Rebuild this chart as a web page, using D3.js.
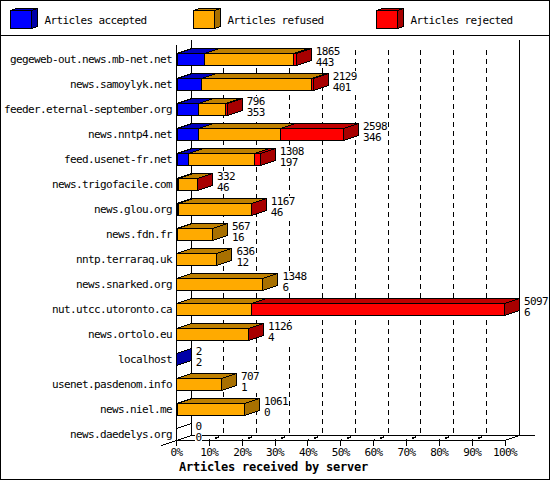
<!DOCTYPE html>
<html>
<head>
<meta charset="utf-8">
<script src="https://cdn.jsdelivr.net/npm/d3@7"></script>
<style>
html, body { margin: 0; padding: 0; background: #fff; }
svg { display: block; }
svg text { font-family: "DejaVu Sans Mono", monospace; font-size: 11px; letter-spacing: -0.62px; fill: #000; }
svg .title { font-size: 12px; font-weight: bold; letter-spacing: -0.22px; }
svg path, svg line, svg rect, svg polygon { shape-rendering: crispEdges; }
</style>
</head>
<body>
<div id="chart"></div>
<script>
let servers = ["gegeweb-out.news.mb-net.net", "news.samoylyk.net", "feeder.eternal-september.org", "news.nntp4.net",
    "feed.usenet-fr.net", "news.trigofacile.com", "news.glou.org", "news.fdn.fr", "nntp.terraraq.uk", "news.snarked.org",
    "nut.utcc.utoronto.ca", "news.ortolo.eu", "localhost", "usenet.pasdenom.info", "news.niel.me", "news.daedelys.org"];
let accepted = [443, 401, 353, 346, 197, 46, 46, 16, 12, 6, 6, 4, 2, 1, 0, 0];
let refused = [1385, 1706, 410, 1281, 1026, 285, 1120, 551, 624, 1342, 1170, 1121, 0, 706, 1061, 0];
let rejected = [37, 22, 33, 971, 85, 1, 1, 0, 0, 0, 3921, 1, 0, 0, 0, 0];
let percentTicks = [0, 10, 20, 30, 40, 50, 60, 70, 80, 90, 100];
let seriesNames = ["Articles accepted", "Articles refused", "Articles rejected"];
let seriesColors = ["#0000ff", "#ffaa00", "#ff0000"];
let topColors = ["#0000bf", "#bf8000", "#bf0000"];
let sideColors = ["#0000a8", "#a87000", "#a80000"];

let fullWidth = 550, fullHeight = 480;
let depthX = 15, depthY = 5, barHeight = 12;

let svg = d3.select("#chart").append("svg")
    .attr("width", fullWidth)
    .attr("height", fullHeight);

// frame and legend separator
svg.append("rect").attr("x", 0.5).attr("y", 0.5).attr("width", fullWidth - 1).attr("height", fullHeight - 1)
    .attr("fill", "#fff").attr("stroke", "#000");
svg.append("line").attr("x1", 0).attr("x2", fullWidth).attr("y1", 35.5).attr("y2", 35.5).attr("stroke", "#000");

let x = d3.scaleLinear().domain([0, 100]).range([176.5, 505]);
let y = d3.scaleBand().domain(servers).range([40, 440]);
let snap = v => Math.round(x(v)) - 0.5;

let totals = servers.map((s, i) => accepted[i] + refused[i] + rejected[i]);
let maxTotal = d3.max(totals);
let pct = v => v * 100 / maxTotal;

let walls = svg.append("g").attr("fill", "none").attr("stroke", "#000");
let floorY = y.range()[1] + 0.5;

// back plane grid
walls.selectAll(".grid")
    .data(percentTicks.slice(1, -1))
    .enter().append("line")
    .attr("x1", d => snap(d) + depthX).attr("x2", d => snap(d) + depthX)
    .attr("y1", 50).attr("y2", floorY - depthY)
    .attr("stroke-dasharray", "5 4");

// floor ticks
walls.selectAll(".floor")
    .data(percentTicks.slice(1, -1))
    .enter().append("line")
    .attr("x1", d => snap(d)).attr("x2", d => snap(d) + depthX)
    .attr("y1", floorY).attr("y2", floorY - depthY)
    .attr("stroke-width", 1.5)
    .attr("stroke-dasharray", "2 5 4 10");

walls.append("path").attr("d", d3.line()([
    [x(0), 45], [x(0), floorY]
]));
walls.append("path").attr("d", d3.line()([
    [x(0) + depthX, 40], [x(0) + depthX, floorY - depthY], [535, floorY - depthY]
]));
walls.append("path").attr("d", d3.line()([
    [snap(100) + depthX, 40], [snap(100) + depthX, floorY - depthY], [snap(100), floorY]
]));
walls.append("line")
    .attr("x1", x(0) - depthX).attr("y1", floorY + depthY)
    .attr("x2", x(0) + depthX).attr("y2", floorY - depthY);

// x axis
let xAxis = svg.append("g")
    .attr("transform", `translate(-0.5,${floorY})`)
    .call(d3.axisBottom(x).tickValues(percentTicks).tickFormat(d => d + "%").tickSize(5).tickPadding(3));
xAxis.selectAll(".tick line").attr("stroke", "#000");
xAxis.select(".domain").attr("stroke", "#000").attr("d", `M${x(0)},0H${x(100)}`);
xAxis.attr("font-family", null).attr("font-size", null);

// y axis labels
let yAxis = svg.append("g")
    .attr("transform", "translate(172,6.5)")
    .call(d3.axisLeft(y).tickSize(0).tickPadding(0));
yAxis.select(".domain").remove();
yAxis.attr("font-family", null).attr("font-size", null);

// one box: top, side and front
function drawBox(g, x0, x1, yBottom, s) {
    let yTop = yBottom - barHeight;
    g.append("polygon")
        .attr("points", [[x0, yTop], [x0 + depthX, yTop - depthY], [x1 + depthX, yTop - depthY], [x1, yTop]].join(" "))
        .attr("fill", topColors[s]);
    g.append("polygon")
        .attr("points", [[x1, yTop], [x1 + depthX, yTop - depthY], [x1 + depthX, yBottom - depthY], [x1, yBottom]].join(" "))
        .attr("fill", sideColors[s]);
    g.append("rect")
        .attr("x", x0).attr("y", yTop)
        .attr("width", x1 - x0).attr("height", barHeight)
        .attr("fill", seriesColors[s]);
}

let rows = svg.selectAll(".row")
    .data(servers)
    .enter().append("g")
    .attr("class", "row")
    .attr("stroke", "#000");

rows.each(function(name, i) {
    let g = d3.select(this);
    let yBottom = y(name) + y.bandwidth() + 0.5;
    let values = [accepted[i], refused[i], rejected[i]];
    if (totals[i] === 0) {
        g.append("polygon")
            .attr("points", [[x(0), yBottom - barHeight], [x(0) + depthX, yBottom - barHeight - depthY],
                [x(0) + depthX, yBottom - depthY], [x(0), yBottom]].join(" "))
            .attr("fill", "none");
    }
    let start = 0;
    values.forEach((v, s) => {
        if (v === 0) return;
        let end = start + v;
        drawBox(g, snap(pct(start)) + (start === 0 ? 0.5 : 0), snap(pct(end)), yBottom, s);
        start = end;
    });
    // the label sits on a white patch that hides the grid behind it
    let labelX = x(pct(totals[i])) + depthX + 4;
    let labels = g.append("g").attr("stroke", "none");
    let boxWidth = 6 * String(d3.max([totals[i], accepted[i]])).length + 1;
    labels.append("rect")
        .attr("x", labelX - 1).attr("y", yBottom - 20)
        .attr("width", boxWidth).attr("height", 22)
        .attr("fill", "#fff");
    labels.append("text").attr("x", labelX).attr("y", yBottom - 11).text(totals[i]);
    labels.append("text").attr("x", labelX).attr("y", yBottom).text(accepted[i]);
});

// legend
let legendX = [10.5, 193.5, 376.5];
let legend = svg.selectAll(".legend")
    .data(seriesNames)
    .enter().append("g")
    .attr("class", "legend");

legend.each(function(name, s) {
    let g = d3.select(this);
    let x0 = legendX[s], x1 = x0 + 21, y0 = 10.5, y1 = 28.5, dx = 6, dy = 2;
    g.append("polygon").attr("points", [[x0, y0], [x0 + dx, y0 - dy], [x1 + dx, y0 - dy], [x1, y0]].join(" "))
        .attr("fill", topColors[s]).attr("stroke", "#000");
    g.append("polygon").attr("points", [[x1, y0], [x1 + dx, y0 - dy], [x1 + dx, y1 - dy], [x1, y1]].join(" "))
        .attr("fill", sideColors[s]).attr("stroke", "#000");
    g.append("rect").attr("x", x0).attr("y", y0).attr("width", x1 - x0).attr("height", y1 - y0)
        .attr("fill", seriesColors[s]).attr("stroke", "#000");
    g.append("text").attr("x", x0 + 34).attr("y", 24).text(name);
});

svg.append("text")
    .attr("class", "title")
    .attr("x", 273.5)
    .attr("y", 471)
    .attr("text-anchor", "middle")
    .text("Articles received by server");
</script>
</body>
</html>
